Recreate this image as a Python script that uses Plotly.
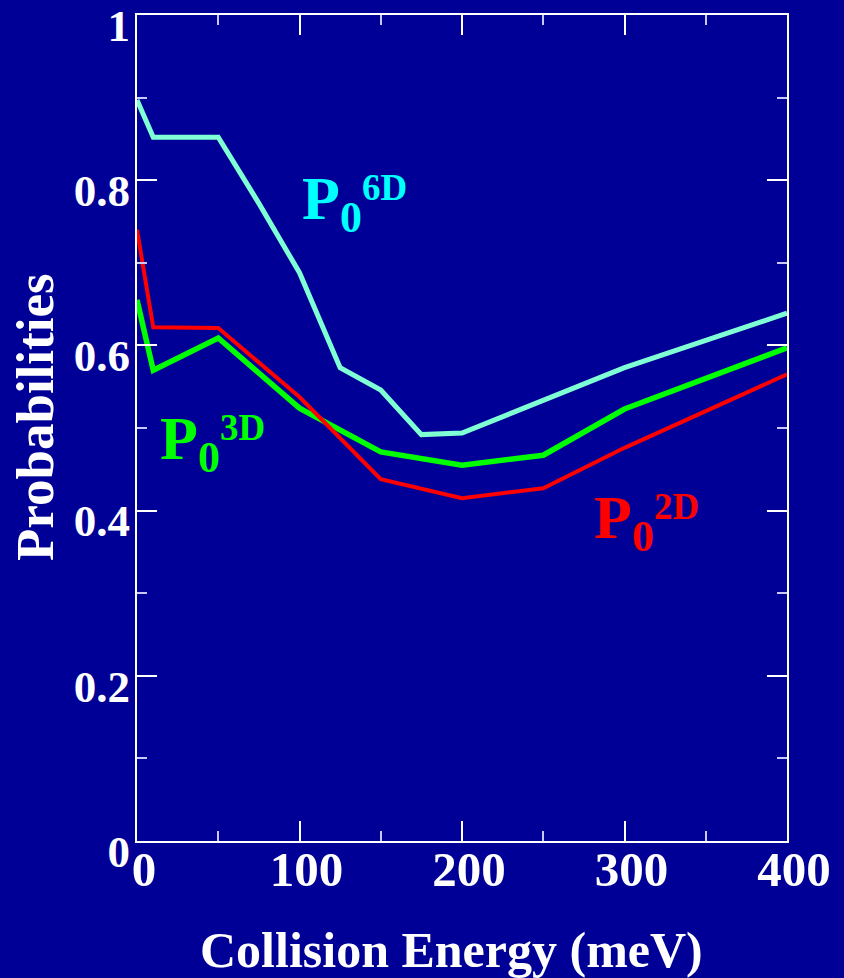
import plotly.graph_objects as go

# ---- data ----
energy_6d = [0, 10, 50, 75, 100, 125, 150, 175, 200, 300, 400]
prob_6d = [0.897, 0.852, 0.852, 0.772, 0.688, 0.573, 0.546, 0.492, 0.494, 0.573, 0.639]

energy_3d = [0, 10, 50, 100, 150, 200, 250, 300, 400]
prob_3d = [0.655, 0.570, 0.609, 0.524, 0.471, 0.455, 0.467, 0.523, 0.597]

energy_2d = [0, 10, 50, 100, 150, 200, 250, 300, 400]
prob_2d = [0.740, 0.622, 0.621, 0.5375, 0.438, 0.415, 0.427, 0.476, 0.565]

x_ticks = [0, 100, 200, 300, 400]
y_ticks = [0, 0.2, 0.4, 0.6, 0.8, 1]
y_ticktext = ["0", "0.2", "0.4", "0.6", "0.8", "1"]

BG = "rgb(0,0,150)"
FONT = "Liberation Serif"

W, H = 844, 978
L, R, T, B = 137, 57, 15, 137
pw, ph = W - L - R, H - T - B

fig = go.Figure()
fig.add_trace(go.Scatter(x=energy_6d, y=prob_6d, mode="lines",
                         line=dict(color="#7FFFD4", width=5), showlegend=False))
fig.add_trace(go.Scatter(x=energy_3d, y=prob_3d, mode="lines",
                         line=dict(color="#00FF00", width=5.5), showlegend=False))
fig.add_trace(go.Scatter(x=energy_2d, y=prob_2d, mode="lines",
                         line=dict(color="#FF0000", width=4), showlegend=False))


def plabel(sup):
    return ("P<sub><span style='font-size:44px'>0</span></sub>"
            "<sup><span style='font-size:37px;baseline-shift:-7px'>" + sup + "</span></sup>")


lab_font = dict(family=FONT, size=62, weight="bold")
fig.add_annotation(x=100, y=0.773, xref="x", yref="y", xanchor="left", yanchor="middle",
                   text=plabel("6D"), showarrow=False,
                   font=dict(lab_font, color="#00FFFF"))
fig.add_annotation(x=13, y=0.482, xref="x", yref="y", xanchor="left", yanchor="middle",
                   text=plabel("3D"), showarrow=False,
                   font=dict(lab_font, color="#00FF00"))
fig.add_annotation(x=280, y=0.386, xref="x", yref="y", xanchor="left", yanchor="middle",
                   text=plabel("2D"), showarrow=False,
                   font=dict(lab_font, color="#FF0000"))

# axis titles (positions given in pixels, converted to paper coords)
fig.add_annotation(x=(451 - L) / pw, y=1 - (950 - T) / ph, xref="paper", yref="paper",
                   text="Collision Energy (meV)", showarrow=False,
                   xanchor="center", yanchor="middle",
                   font=dict(family=FONT, size=50, weight="bold", color="white"))
fig.add_annotation(x=(35 - L) / pw, y=1 - (417 - T) / ph, xref="paper", yref="paper",
                   text="Probabilities", textangle=-90, showarrow=False,
                   xanchor="center", yanchor="middle",
                   font=dict(family=FONT, size=53, weight="bold", color="white"))

axis_common = dict(showgrid=False, zeroline=False, showline=True, linecolor="white",
                   linewidth=2, mirror="ticks", ticks="inside", ticklen=20, tickwidth=1.5,
                   tickcolor="white", automargin=False,
                   minor=dict(ticks="inside", ticklen=10, tickwidth=1.5, tickcolor="#C8C8FF",
                              showgrid=False))

fig.update_xaxes(range=[0, 400], tickvals=x_ticks, ticktext=[str(v) for v in x_ticks],
                 minor_dtick=50, ticklabelshift=7, ticklabelstandoff=-16,
                 tickfont=dict(family=FONT, size=49, weight="bold", color="white"),
                 **axis_common)
fig.update_yaxes(range=[0, 1], tickvals=y_ticks, ticktext=y_ticktext,
                 minor_dtick=0.1, ticklabelshift=10, ticklabelstandoff=-4,
                 tickfont=dict(family=FONT, size=45, weight="bold", color="white"),
                 **axis_common)

fig.update_layout(width=W, height=H, margin=dict(l=L, r=R, t=T, b=B, autoexpand=False),
                  paper_bgcolor=BG, plot_bgcolor=BG)

fig.write_html("out.html")
